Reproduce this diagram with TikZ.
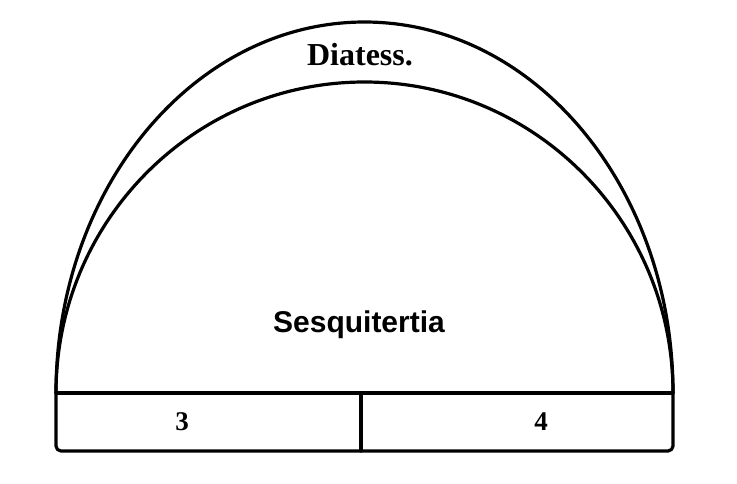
\documentclass[tikz,border=0pt]{standalone}
\usepackage{fontspec}
\newfontfamily\serifb{Liberation Serif}
\newfontfamily\sansb{Liberation Sans}
\begin{document}
\begin{tikzpicture}[x=1pt,y=1pt,
  ln/.style={line width=3.2pt, line cap=round, line join=round},
  lab/.style={inner sep=0pt, anchor=base}]
\useasboundingbox (0,0) rectangle (737,-483);
% arcs
\draw[ln] (56,-393) arc[start angle=180, end angle=0, x radius=308.5, y radius=371];
\draw[ln] (56,-393) arc[start angle=180, end angle=0, x radius=308.5, y radius=311];
% base strip
\draw[ln] (56,-393) -- (673,-393);
\draw[ln, rounded corners=5pt] (56,-393) -- (56,-451) -- (673,-451) -- (673,-393);
\draw[ln] (361,-395) -- (361,-451);
% labels
\node[lab] (dia) at (360,-65) {\serifb\bfseries\fontsize{32}{33}\selectfont Diatess.};
\node[lab] (ses) at (359,-332) {\sansb\bfseries\fontsize{30}{31}\selectfont Sesquitertia};
\node[lab] (three) at (182,-430) {\serifb\bfseries\fontsize{27}{28}\selectfont 3};
\node[lab] (four) at (541,-430) {\serifb\bfseries\fontsize{27}{28}\selectfont 4};
\end{tikzpicture}
\end{document}
